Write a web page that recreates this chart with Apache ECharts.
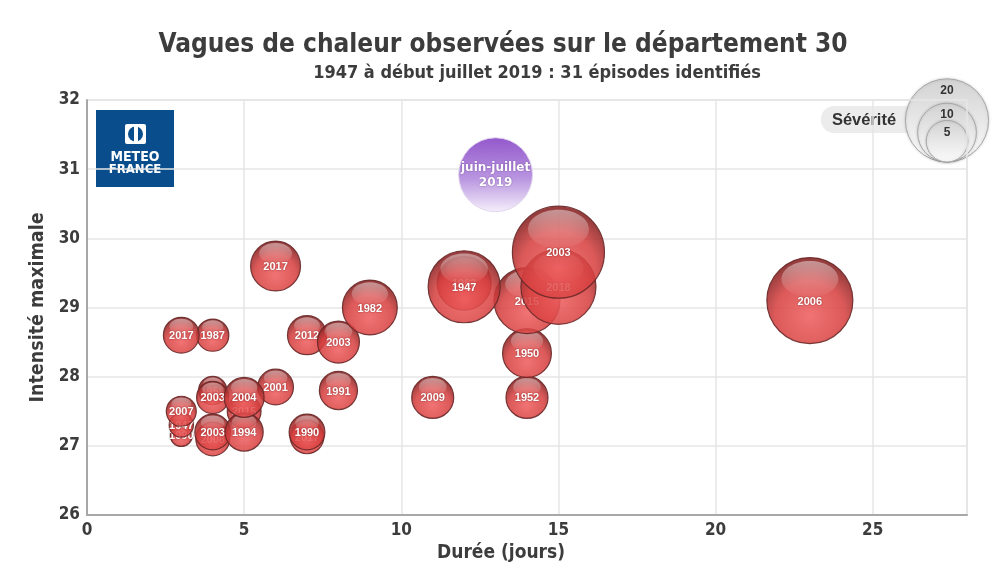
<!DOCTYPE html>
<html><head><meta charset="utf-8">
<script src="https://cdn.jsdelivr.net/npm/echarts@6/dist/echarts.min.js"></script>
<style>html,body{margin:0;padding:0;background:#fff}#c{width:1000px;height:573px}</style>
</head><body><div id="c"></div>
<script>
// ---- data ----
const annees    = ['2017','2017','1987','2012','2003','1982','1947','1983','2015','2003','2018','1950','1952','2006','2009','1991','2001','1990','2017','2004','2015','1994','2003','1959','2003','2008','2007','1947','1990'];
const duree     = [6,    3,    4,    7,    8,    9,    12,   12,   14,   15,   15,   14,   14,   23,   11,   8,    6,    7,    7,    5,    5,    5,    4,    4,    4,    4,    3,    3,    3];
const intensite = [29.6, 28.6, 28.6, 28.6, 28.5, 29.0, 29.3, 29.35,29.1, 29.8, 29.3, 28.34,27.7, 29.1, 27.7, 27.8, 27.85,27.2, 27.13,27.7, 27.5, 27.2, 27.7, 27.8, 27.2, 27.1, 27.5, 27.3, 27.15];
const severite  = [7.2,  3.7,  3.0,  4.4,  5.1,  8.7,  15.0, 8.4,  12.6, 24.5, 16.3, 6.9,  5.1,  21.4, 5.1,  4.2,  3.7,  3.7,  3.3,  4.6,  3.3,  4.2,  3.0,  2.3,  3.7,  3.3,  2.6,  1.7,  1.4];
const episode2019 = {label: 'juin-juillet\n2019', duree: 13, intensite: 30.92, severite: 15.8};
const xTicks = [0,5,10,15,20,25];
const yTicks = [26,27,28,29,30,31,32];
const legendSev = [20,10,5];
// ----------------
const K = 9.3; // radius = K*sqrt(severity)

const order = annees.map((_,i)=>i).sort((a,b)=>severite[a]-severite[b]);
const data = order.map(i=>[duree[i], intensite[i], severite[i], annees[i]]);

function bubble(params, api, purple){
  const p = api.coord([api.value(0), api.value(1)]);
  const r = K*Math.sqrt(api.value(2));
  if (purple) {
    return {type:'group', children:[
      {type:'circle', shape:{cx:p[0], cy:p[1], r:r},
       style:{fill:new echarts.graphic.LinearGradient(0,0,0,1,[{offset:0,color:'#9358cc'},{offset:0.55,color:'#b995e0'},{offset:1,color:'#f6f0fb'}]), stroke:'#e2d6ee', lineWidth:1}},
      {type:'text', style:{x:p[0], y:p[1]+1, text:episode2019.label, fill:'#fff', font:'bold 12px "DejaVu Sans"', align:'center', verticalAlign:'middle', lineHeight:15, textShadowColor:'rgba(60,20,90,0.5)', textShadowBlur:2}}
    ]};
  }
  const label = data[params.dataIndex][3];
  return {type:'group', children:[
    {type:'circle', shape:{cx:p[0], cy:p[1], r:r},
     style:{fill:new echarts.graphic.RadialGradient(0.5,0.68,0.62,[{offset:0,color:'rgba(238,92,92,0.86)'},{offset:0.65,color:'rgba(214,62,62,0.86)'},{offset:1,color:'rgba(140,40,40,0.9)'}]),
            stroke:'rgba(105,40,40,0.9)', lineWidth:1.2}},
    {type:'ellipse', shape:{cx:p[0], cy:p[1]-r*0.5, rx:r*0.66, ry:r*0.42},
     style:{fill:new echarts.graphic.LinearGradient(0,0,0,1,[{offset:0,color:'rgba(255,255,255,0.45)'},{offset:1,color:'rgba(255,255,255,0.02)'}])}},
    {type:'text', style:{x:p[0], y:p[1]+1, text:label, fill:'#fff', font:'bold 11px "Liberation Sans"', align:'center', verticalAlign:'middle', textShadowColor:'rgba(80,0,0,0.6)', textShadowBlur:2}}
  ]};
}

const chart = echarts.init(document.getElementById('c'), null, {renderer:'canvas'});
const legendGraphics = [];
const lgBottom = 162, lgX = 947;
legendGraphics.push({type:'rect', shape:{x:821, y:106, width:100, height:27, r:13}, style:{fill:'#ececec'}});
legendGraphics.push({type:'text', style:{x:864, y:120, text:'Sévérité', font:'bold 16.5px "Liberation Sans"', fill:'#333', align:'center', verticalAlign:'middle'}});
legendSev.forEach(s=>{
  const r = K*Math.sqrt(s);
  legendGraphics.push({type:'circle', shape:{cx:lgX, cy:lgBottom-r, r:r},
    style:{fill:new echarts.graphic.LinearGradient(0,0,0,1,[{offset:0,color:'#d2d2d2'},{offset:0.6,color:'#ececec'},{offset:1,color:'#fafafa'}]), stroke:'#a8a8a8', lineWidth:1, shadowColor:'rgba(0,0,0,0.15)', shadowBlur:3}});
  legendGraphics.push({type:'text', style:{x:lgX, y:lgBottom-2*r+12, text:String(s), font:'bold 12px "Liberation Sans"', fill:'#333', align:'center', verticalAlign:'middle'}});
});
const logo = [
  {type:'rect', shape:{x:96, y:110, width:78, height:77}, style:{fill:'#0a4d8c'}},
  {type:'rect', shape:{x:125, y:124, width:21, height:20, r:2}, style:{fill:'#fff'}},
  {type:'circle', shape:{cx:135.5, cy:134, r:7.5}, style:{fill:'#0a4d8c'}},
  {type:'rect', shape:{x:134, y:125, width:4, height:18}, style:{fill:'#fff'}},
  {type:'text', style:{x:135, y:157, text:'METEO', font:'bold 14px "DejaVu Sans Condensed"', fill:'#fff', align:'center', verticalAlign:'middle'}},
  {type:'text', style:{x:135, y:170, text:'FRANCE', font:'bold 13px "DejaVu Sans Condensed"', fill:'#fff', align:'center', verticalAlign:'middle'}}
];

const axisFont = {fontFamily:'DejaVu Sans Condensed', fontWeight:'bold', color:'#3c3c3c'};
chart.setOption({
  animation:false,
  backgroundColor:'#fff',
  title:[
    {text:'Vagues de chaleur observées sur le département 30', left:498, top:27, textAlign:'center',
     textStyle:{...axisFont, fontSize:26}},
    {text:'1947 à début juillet 2019 : 31 épisodes identifiés', left:532, top:59, textAlign:'center',
     textStyle:{...axisFont, fontSize:18}}
  ],
  grid:{left:87, right:33, top:100, bottom:58, show:true, borderColor:'#d0d0d0', borderWidth:1},
  xAxis:{type:'value', min:0, max:28, interval:5,
    name:'Durée (jours)', nameLocation:'middle', nameGap:25,
    nameTextStyle:{...axisFont, fontSize:19, padding:[0,52,0,0]},
    axisLine:{show:true, lineStyle:{color:'#a8a8a8', width:2}}, axisTick:{show:false},
    axisLabel:{...axisFont, fontSize:17, margin:7, formatter:v=>xTicks.includes(v)?String(v):''},
    splitLine:{show:true, lineStyle:{color:'#e6e6e6', width:1.5}}},
  yAxis:{type:'value', min:26, max:32, interval:1,
    name:'Intensité maximale', nameLocation:'middle', nameGap:35, nameRotate:90,
    nameTextStyle:{...axisFont, fontSize:19.5},
    axisLine:{show:true, lineStyle:{color:'#a8a8a8', width:2}}, axisTick:{show:false},
    axisLabel:{...axisFont, fontSize:17, margin:7, formatter:v=>yTicks.includes(v)?String(v):''},
    splitLine:{show:true, lineStyle:{color:'#e6e6e6', width:1.5}}},
  graphic:[...logo, ...legendGraphics],
  series:[
    {type:'custom', data:data, renderItem:(p,a)=>bubble(p,a,false), clip:false, z:3},
    {type:'custom', data:[[episode2019.duree, episode2019.intensite, episode2019.severite]], renderItem:(p,a)=>bubble(p,a,true), z:3}
  ]
});
</script></body></html>
